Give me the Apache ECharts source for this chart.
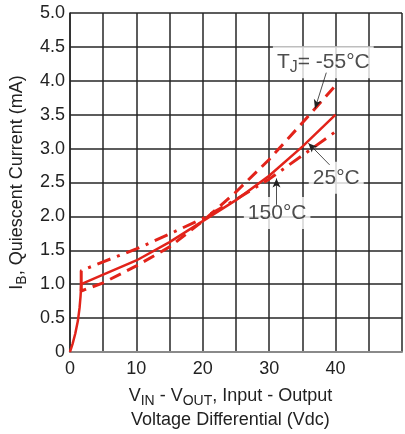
<!DOCTYPE html>
<html>
<head>
<meta charset="utf-8">
<script src="https://cdn.jsdelivr.net/npm/echarts@6/dist/echarts.min.js"></script>
<style>
html,body{margin:0;padding:0;background:#fff;}
#chart{width:405px;height:434px;}
</style>
</head>
<body>
<div id="chart"></div>
<script>
// ---- data ----
const xTicks = [0, 10, 20, 30, 40];
const yTickValues = [0, 0.5, 1.0, 1.5, 2.0, 2.5, 3.0, 3.5, 4.0, 4.5, 5.0];
const curve25 = [[0,0],[0.4,0.12],[0.8,0.27],[1.2,0.46],[1.45,0.65],[1.6,0.82],[1.7,1.0],[5,1.14],[10,1.35],[15,1.62],[20,1.93],[25,2.24],[30,2.6],[35,3.03],[40,3.5]];
const curveM55 = [[1.7,1.0],[1.7,0.9],[5,1.02],[10,1.27],[15,1.55],[20,1.93],[25,2.36],[30,2.84],[35,3.38],[40,3.93]];
const curve150 = [[1.7,1.0],[1.7,1.2],[5,1.33],[10,1.52],[15,1.74],[20,1.97],[25,2.25],[30,2.55],[35,2.9],[40,3.25]];
const labelTexts = ['{n|T}{s|J}{n|= -55°C}', '{n|25°C}', '{n|150°C}'];
const labelPos = [[38.15, 4.275], [40.1, 2.57], [31.2, 2.05]];
const arrows = [
  [[38.6, 4.12], [36.9, 3.59]],
  [[39.1, 2.76], [35.9, 3.08]],
  [[31.1, 2.17], [31.1, 2.56]]
];

const RED = '#e2231a';
const FONT = 'Liberation Sans, Arial, sans-serif';

const chart = echarts.init(document.getElementById('chart'), null, {renderer: 'canvas'});
const subRich = {
  n: {fontSize: 18, lineHeight: 24, verticalAlign: 'middle', fontFamily: FONT, color: '#222'},
  s: {fontSize: 14, lineHeight: 14, verticalAlign: 'bottom', fontFamily: FONT, color: '#222'}
};
chart.setOption({
  animation: false,
  backgroundColor: '#fff',
  grid: {left: 68, width: 341, top: 13, height: 340, containLabel: false},
  xAxis: {
    type: 'value', min: 0, max: 50, interval: 5,
    name: '{n|V}{s|IN}{n| - V}{s|OUT}{n|, Input - Output}\n{n|Voltage Differential (Vdc)}',
    nameLocation: 'middle', nameGap: 32,
    nameTextStyle: {rich: subRich, padding: [0, 11, 0, 0]},
    axisLine: {show: true, onZero: false, lineStyle: {color: '#8a8a8a', width: 2}},
    axisTick: {show: false},
    axisLabel: {
      margin: 8, fontSize: 18, fontFamily: FONT, color: '#222',
      formatter: v => xTicks.indexOf(v) >= 0 ? String(v) : ''
    },
    splitLine: {show: true, lineStyle: {color: '#262626', width: 1.5}}
  },
  yAxis: {
    type: 'value', min: 0, max: 5, interval: 0.5,
    name: '{n|I}{s|B}{n|, Quiescent Current (mA)}',
    nameLocation: 'middle', nameGap: 36, nameRotate: 90,
    nameTextStyle: {rich: subRich},
    axisLine: {show: true, lineStyle: {color: '#262626', width: 1.5}},
    axisTick: {show: false},
    axisLabel: {
      margin: 5, fontSize: 18, fontFamily: FONT, color: '#222',
      formatter: v => {
        const i = yTickValues.findIndex(t => Math.abs(t - v) < 1e-9);
        if (i < 0) return '';
        return yTickValues[i] === 0 ? '0' : yTickValues[i].toFixed(1);
      }
    },
    splitLine: {show: true, lineStyle: {color: '#262626', width: 1.5}}
  },
  series: [
    {
      type: 'scatter', z: 2, symbolSize: 0, silent: true,
      data: labelPos,
      label: {
        show: true, position: 'inside',
        formatter: p => labelTexts[p.dataIndex],
        backgroundColor: '#fff', padding: [3, 4],
        rich: {
          n: {fontSize: 21, lineHeight: 26, verticalAlign: 'middle', fontFamily: FONT, color: '#222'},
          s: {fontSize: 16, lineHeight: 12, verticalAlign: 'bottom', fontFamily: FONT, color: '#222'}
        }
      }
    },
    {
      name: '-55', type: 'line', z: 4, showSymbol: false, symbol: 'none', silent: true,
      data: curveM55,
      lineStyle: {color: RED, width: 3, type: [12, 7]}
    },
    {
      name: '150', type: 'line', z: 4, showSymbol: false, symbol: 'none', silent: true,
      data: curve150,
      lineStyle: {color: RED, width: 3, type: [14, 7, 3, 7]}
    },
    {
      name: '25', type: 'line', z: 5, showSymbol: false, symbol: 'none', silent: true,
      data: curve25,
      lineStyle: {color: RED, width: 2.5},
      markLine: {
        silent: true, z: 10,
        symbol: ['none', 'arrow'], symbolSize: [6, 9],
        label: {show: false},
        lineStyle: {color: '#222', width: 0.8, type: 'solid'},
        data: arrows.map(a => [{coord: a[0]}, {coord: a[1]}])
      }
    }
  ]
});
</script>
</body>
</html>
